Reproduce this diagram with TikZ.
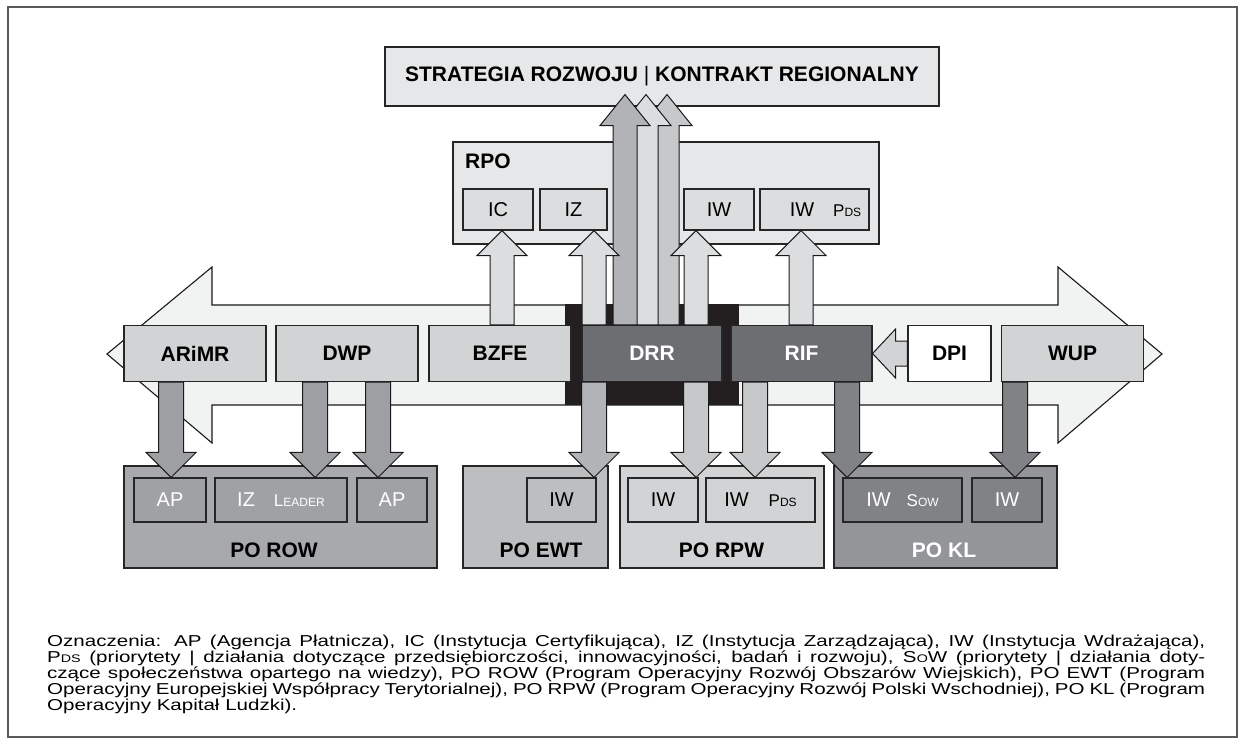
\documentclass[tikz,border=0pt]{standalone}
\usepackage{fontspec}
\setmainfont{Liberation Sans}
\newfontfamily\legfont[FakeStretch=1.3]{Liberation Sans}
\usepackage{tikz}
\usetikzlibrary{calc,positioning}
\definecolor{frm}{HTML}{58595B}
\definecolor{paper}{HTML}{E6E7E8}
\definecolor{unitc}{HTML}{DCDDDE}
\definecolor{band}{HTML}{F1F2F2}
\definecolor{midc}{HTML}{D1D3D4}
\definecolor{darkc}{HTML}{6D6E71}
\definecolor{ink}{HTML}{231F20}
\definecolor{upl}{HTML}{DCDDDE}
\definecolor{upm}{HTML}{C7C8CA}
\definecolor{upd}{HTML}{B1B3B6}
\definecolor{dnrow}{HTML}{9D9FA2}
\definecolor{rowc}{HTML}{A7A9AC}
\definecolor{rowin}{HTML}{9FA1A4}
\definecolor{ewtc}{HTML}{BCBEC0}
\definecolor{klc}{HTML}{939598}
\definecolor{klin}{HTML}{808285}
\newcommand{\pds}{{\fontsize{17}{17}\selectfont P\fontsize{12}{12}\selectfont DS}}
\newcommand{\sow}{{\fontsize{17}{17}\selectfont S\fontsize{12}{12}\selectfont OW}}
\newcommand{\leader}{{\fontsize{17}{17}\selectfont L\fontsize{12}{12}\selectfont EADER}}
\newcommand{\sml}[1]{{\fontsize{11}{11}\selectfont #1}}
% block arrows: fill, x, from, to, head length
\newcommand{\blkup}[5]{%
  \path (#2,0 |- #3) coordinate (ab) (#2,0 |- #4) coordinate (ae);
  \draw[blk,fill=#1] ($(ab)+(-12,0)$) -- ($(ae)+(-12,#5)$) -- ($(ae)+(-25,#5)$) -- (ae)
    -- ($(ae)+(25,#5)$) -- ($(ae)+(12,#5)$) -- ($(ab)+(12,0)$) -- cycle;}
\newcommand{\blkdown}[5]{%
  \path (#2,0 |- #3) coordinate (ab) (#2,0 |- #4) coordinate (ae);
  \draw[blk,fill=#1] ($(ab)+(-12.5,0)$) -- ($(ae)+(-12.5,-#5)$) -- ($(ae)+(-25,-#5)$) -- (ae)
    -- ($(ae)+(25,-#5)$) -- ($(ae)+(12.5,-#5)$) -- ($(ab)+(12.5,0)$) -- cycle;}
\tikzset{
  lbl/.style={inner sep=0pt,font=\fontsize{21}{21}\selectfont\bfseries},
  box/.style={draw=black!85,line width=1.1pt,inner sep=0pt,font=\fontsize{21}{21}\selectfont\bfseries},
  midbox/.style={box,fill=midc,minimum width=142,minimum height=56},
  unit/.style={draw=black!85,line width=1.1pt,inner sep=0pt,font=\fontsize{20}{20}\selectfont,minimum height=44},
  blk/.style={draw=black!90,line width=1pt,line join=miter},
}
\begin{document}
\begin{tikzpicture}[x=1pt,y=-1pt]
  \useasboundingbox (0,0) rectangle (1244,744);
  \draw[frm,line width=1.6pt] (8,7) rectangle (1237,737);
  % double arrow band and black block
  \draw[blk,line width=1.1pt,fill=band] (107,354) -- (212,267) -- (212,305) -- (1058,305) -- (1058,267) -- (1162,354)
    -- (1058,443) -- (1058,405) -- (212,405) -- (212,443) -- cycle;
  \fill[ink] (565,304) rectangle (739,405);
  % top
  \node[box,fill=paper,minimum width=554,minimum height=59] (strat) at (662,76.5) {STRATEGIA ROZWOJU {\mdseries|} KONTRAKT REGIONALNY};
  \node[box,fill=paper,minimum width=426,minimum height=102] (rpo) at (666,193) {};
  \node[lbl,anchor=west] (rpot) at (465,161) {RPO};
  \node[unit,fill=unitc,minimum width=70,minimum height=41] (ic) at (498,209.5) {IC};
  \node[unit,fill=unitc,minimum width=67,minimum height=41] (izr) at (573.5,209.5) {IZ};
  \node[unit,fill=unitc,minimum width=70,minimum height=41] (iwr) at (719,209.5) {IW};
  \node[unit,fill=unitc,minimum width=109,minimum height=41] (iwpr) at (814.5,209.5) {\hspace*{22pt}IW\hspace{19pt}\pds};
  % middle row
  \foreach \n/\x/\t in {arimr/195/ARiMR,dwp/347/DWP,bzfe/500/BZFE,wup/1072.5/WUP}
    \node[midbox] (\n) at (\x,353.5) {\t};
  \node[midbox,fill=darkc,text=white,minimum width=140] (drr) at (652,353.5) {DRR};
  \node[midbox,fill=darkc,text=white,minimum width=141] (rif) at (801.5,353.5) {RIF};
  \node[midbox,fill=white,minimum width=83] (dpi) at (949.5,353.5) {DPI};
  % bottom row
  \node[box,fill=rowc,minimum width=313,minimum height=102] (row) at (280.5,517) {};
  \node[box,fill=ewtc,minimum width=145,minimum height=102] (ewt) at (535.5,517) {};
  \node[box,fill=midc,minimum width=204,minimum height=102] (rpw) at (722,517) {};
  \node[box,fill=klc,minimum width=223,minimum height=102] (kl) at (945.5,517) {};
  \node[unit,fill=rowin,text=white,minimum width=72] (apa) at (170,500) {AP};
  \node[unit,fill=rowin,text=white,minimum width=132] (izl) at (281,500) {IZ\hspace{19pt}\leader};
  \node[unit,fill=rowin,text=white,minimum width=70] (apb) at (392,500) {AP};
  \node[unit,fill=ewtc,minimum width=69] (iwe) at (561.5,500) {IW};
  \node[unit,fill=midc,minimum width=70] (iwa) at (663,500) {IW};
  \node[unit,fill=midc,minimum width=109] (iwpa) at (760.5,500) {IW\hspace{20pt}\pds};
  \node[unit,fill=klin,text=white,minimum width=119] (iws) at (902.5,500) {IW\hspace{16pt}\sow};
  \node[unit,fill=klin,text=white,minimum width=70] (iwk) at (1007,500) {IW};
  \node[lbl] (rowt) at (274,550) {PO ROW};
  \node[lbl] (ewtt) at (541,550) {PO EWT};
  \node[lbl] (rpwt) at (721.5,550) {PO RPW};
  \node[lbl,text=white] (klt) at (944,550) {PO KL};
  % arrows up
  \coordinate (stip) at ([yshift=12pt]strat.south);
  \foreach \c/\x in {upm/667,upl/646,upd/625} \blkup{\c}{\x}{drr.north}{stip}{31};
  \blkup{upl}{502}{bzfe.north}{ic.south}{25}
  \blkup{upl}{594}{drr.north}{izr.south}{25}
  \blkup{upl}{696}{drr.north}{iwr.south}{25}
  \blkup{upl}{801}{rif.north}{iwpr.south}{25}
  % arrows down
  \foreach \c/\x/\s/\e in {dnrow/171/arimr/apa,dnrow/315/dwp/izl,dnrow/378/dwp/apb,upd/594/drr/iwe,
      upm/696/drr/iwa,upm/755/rif/iwpa,klin/847/rif/iws,klin/1015/wup/iwk}
    \blkdown{\c}{\x}{\s.south}{\e.north}{25};
  % DPI to RIF
  \draw[blk,fill=midc] ($(dpi.west)+(0,-12.5)$) -- ($(rif.east)+(23,-12.5)$) -- ($(rif.east)+(23,-24.5)$) -- (rif.east)
    -- ($(rif.east)+(23,24.5)$) -- ($(rif.east)+(23,12.5)$) -- ($(dpi.west)+(0,12.5)$) -- cycle;
  % legend
  \node[inner sep=0pt,anchor=north west,align=left,font=\legfont\fontsize{15.8}{14.5}\selectfont] (leg) at (47,635) {%
    \makebox[1158pt][s]{Oznaczenia: AP (Agencja Płatnicza), IC (Instytucja Certyfikująca), IZ (Instytucja Zarządzająca), IW (Instytucja Wdrażająca),}\\
    \makebox[1158pt][s]{P\sml{DS} (priorytety | działania dotyczące przedsiębiorczości, innowacyjności, badań i rozwoju), S\sml{O}W (priorytety | działania doty-}\\
    \makebox[1158pt][s]{czące społeczeństwa opartego na wiedzy), PO ROW (Program Operacyjny Rozwój Obszarów Wiejskich), PO EWT (Program}\\
    \makebox[1158pt][s]{Operacyjny Europejskiej Współpracy Terytorialnej), PO RPW (Program Operacyjny Rozwój Polski Wschodniej), PO KL (Program}\\
    Operacyjny Kapitał Ludzki).};
\end{tikzpicture}
\end{document}
